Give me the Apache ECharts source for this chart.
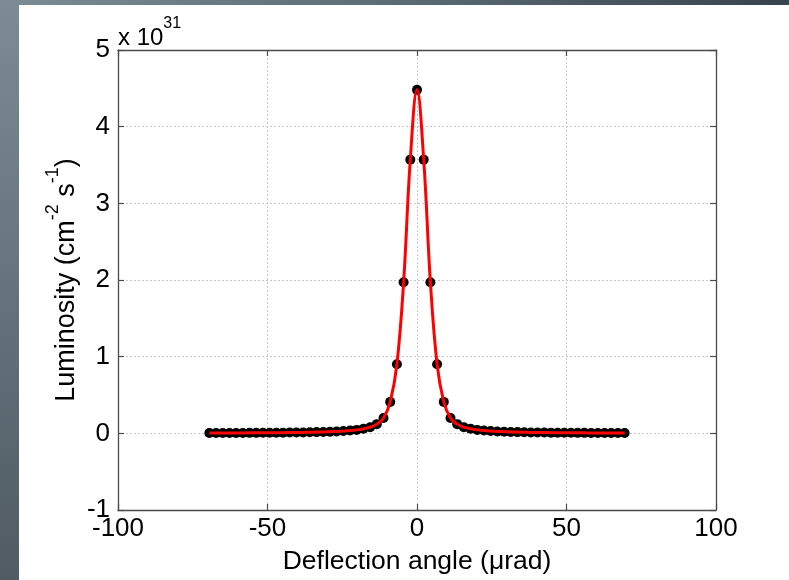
<!DOCTYPE html>
<html>
<head>
<meta charset="utf-8">
<script src="https://cdn.jsdelivr.net/npm/echarts@6/dist/echarts.min.js"></script>
<style>
html,body{margin:0;padding:0;width:789px;height:580px;overflow:hidden;}
body{background:linear-gradient(to bottom,#7c8b95 0%,#66737c 50%,#505b63 100%);position:relative;}
#topbar{position:absolute;left:0;top:0;width:789px;height:5px;background:linear-gradient(to right,#7c8b95,#5d6b74 50%,#37444e);}
#chart{position:absolute;left:19px;top:5px;width:770px;height:575px;background:#ffffff;}
</style>
</head>
<body>
<div id="topbar"></div>
<div id="chart"></div>
<script>
// Deflection angle (µrad)
var angles = [-69.44,-67.2,-64.96,-62.72,-60.48,-58.24,-56.0,-53.76,-51.52,-49.28,-47.04,-44.8,-42.56,-40.32,-38.08,-35.84,-33.6,-31.36,-29.12,-26.88,-24.64,-22.4,-20.16,-17.92,-15.68,-13.44,-11.2,-8.96,-6.72,-4.48,-2.24,0,
  2.24,4.48,6.72,8.96,11.2,13.44,15.68,17.92,20.16,22.4,24.64,26.88,29.12,31.36,33.6,35.84,38.08,40.32,42.56,44.8,47.04,49.28,51.52,53.76,56.0,58.24,60.48,62.72,64.96,67.2,69.44];
// Luminosity (x 10^31 cm^-2 s^-1)
var luminosity = [0.004,0.004,0.004,0.005,0.005,0.005,0.006,0.006,0.007,0.007,0.008,0.009,0.010,0.011,0.012,0.014,0.016,0.018,0.021,0.025,0.030,0.036,0.045,0.06,0.08,0.12,0.20,0.41,0.90,1.97,3.57,4.48,
  3.57,1.97,0.90,0.41,0.20,0.12,0.08,0.06,0.045,0.036,0.030,0.025,0.021,0.018,0.016,0.014,0.012,0.011,0.010,0.009,0.008,0.007,0.007,0.006,0.006,0.005,0.005,0.005,0.004,0.004,0.004];
var xTicks = [-100, 100, 50];   // min, max, interval
var yTicks = [-1, 5, 1];

var pts = angles.map(function(a, i){ return [a, luminosity[i]]; });

var FONT = 'Liberation Sans, Arial, sans-serif';
var frame = {onZero:false, lineStyle:{color:'#4a4a4a', width:1.3}};
var tick = {inside:true, length:6, lineStyle:{color:'#4a4a4a', width:1.2}};
var grid = {show:true, lineStyle:{color:'#c8c8c8', type:[2,2], width:1}};

var chart = echarts.init(document.getElementById('chart'));
chart.setOption({
  animation:false,
  backgroundColor:'#ffffff',
  grid:{left:99, top:45, right:73, bottom:67},
  graphic:[{
    type:'text', left:99, top:11,
    style:{
      rich:{a:{fontSize:24, fontFamily:FONT, fill:'#000', verticalAlign:'bottom', lineHeight:34},
            s:{fontSize:16, fontFamily:FONT, fill:'#000', verticalAlign:'top', lineHeight:34}},
      text:'{a|x 10}{s|31}'
    }
  }],
  xAxis:[{
    type:'value', min:xTicks[0], max:xTicks[1], interval:xTicks[2],
    axisLine:frame, axisTick:tick,
    axisLabel:{fontSize:26, fontFamily:FONT, color:'#000', margin:6},
    splitLine:grid,
    name:'Deflection angle (\u03bcrad)', nameLocation:'middle', nameGap:38, nameMoveOverlap:false,
    nameTextStyle:{fontSize:26.5, fontFamily:FONT, color:'#000'}
  },{
    type:'value', position:'top', min:xTicks[0], max:xTicks[1], interval:xTicks[2],
    axisLine:frame, axisTick:tick,
    axisLabel:{show:false}, splitLine:{show:false}
  }],
  yAxis:[{
    type:'value', min:yTicks[0], max:yTicks[1], interval:yTicks[2],
    axisLine:frame, axisTick:tick,
    axisLabel:{fontSize:26, fontFamily:FONT, color:'#000', margin:8},
    splitLine:grid,
    name:'{a|Luminosity (cm}{s|-2}{a| s}{s|-1}{a|)}', nameLocation:'middle', nameGap:38, nameMoveOverlap:false,
    nameTextStyle:{
      rich:{a:{fontSize:27, fontFamily:FONT, color:'#000', verticalAlign:'bottom', lineHeight:36},
            s:{fontSize:18, fontFamily:FONT, color:'#000', verticalAlign:'top', lineHeight:36}}
    }
  },{
    type:'value', position:'right', min:yTicks[0], max:yTicks[1], interval:yTicks[2],
    axisLine:frame, axisTick:tick,
    axisLabel:{show:false}, splitLine:{show:false}
  }],
  series:[{
    type:'scatter', data:pts, symbol:'circle', symbolSize:10,
    itemStyle:{color:'#000000', opacity:1}, z:2
  },{
    type:'line', data:pts, smooth:0.4, showSymbol:false,
    lineStyle:{color:'#ff0000', width:3}, z:3
  }]
});
</script>
</body>
</html>
